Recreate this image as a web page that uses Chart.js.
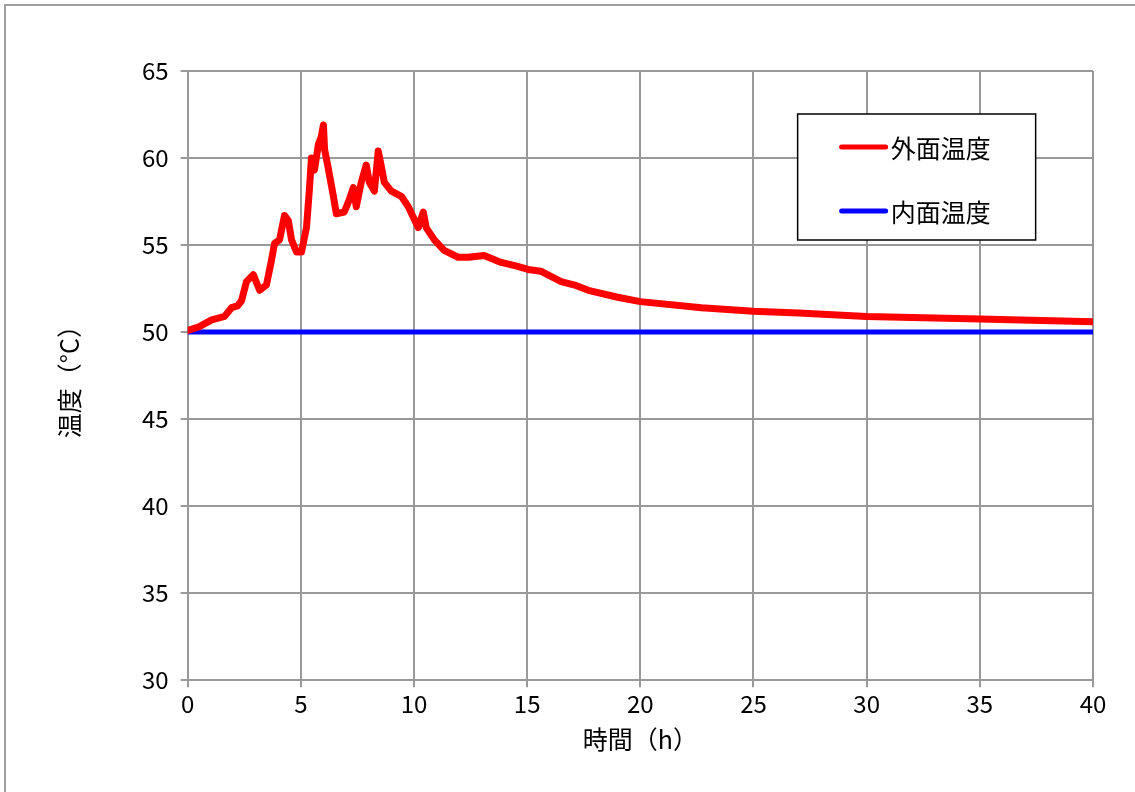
<!DOCTYPE html>
<html>
<head>
<meta charset="utf-8">
<script src="https://cdn.jsdelivr.net/npm/chart.js@4/dist/chart.umd.min.js"></script>
<style>
  html, body { margin: 0; padding: 0; background: #fff; }
  #wrap { width: 1135px; height: 792px; position: relative; }
</style>
</head>
<body>
<div id="wrap"><canvas id="tempChart" width="1135" height="792"></canvas></div>
<script>
// time (h) and temperature (°C)
const hours = [0, 0.5, 1.06, 1.35, 1.63, 1.94, 2.2, 2.38, 2.6, 2.9, 3.18, 3.48, 3.7, 3.84, 4.06, 4.28, 4.45, 4.59,
  4.81, 5.03, 5.25, 5.38, 5.47, 5.6, 5.78, 5.9, 6.0, 6.05, 6.2, 6.44, 6.57, 6.92, 7.14, 7.32, 7.45, 7.67, 7.89, 8.03,
  8.25, 8.42, 8.56, 8.69, 9.0, 9.44, 9.75, 10.19, 10.41, 10.54, 10.9, 11.33, 11.95, 12.4, 13.1, 13.85, 14.5,
  15.04, 15.6, 16.5, 17.1, 17.7, 19.0, 20.0, 22.7, 25.0, 27.0, 30.0, 35.0, 40.0];
const outerTemp = [50.1, 50.3, 50.7, 50.8, 50.9, 51.4, 51.5, 51.8, 52.9, 53.3, 52.4, 52.7, 54.1, 55.1, 55.3, 56.7,
  56.4, 55.3, 54.6, 54.6, 56.0, 58.2, 60.0, 59.3, 60.8, 61.2, 61.9, 60.5, 59.5, 57.8, 56.8, 56.9, 57.6, 58.3, 57.2,
  58.6, 59.6, 58.6, 58.1, 60.4, 59.5, 58.6, 58.1, 57.8, 57.2, 56.0, 56.9, 56.0, 55.3, 54.7, 54.3, 54.3, 54.4, 54.0,
  53.8, 53.6, 53.5, 52.9, 52.7, 52.4, 52.0, 51.75, 51.4, 51.2, 51.1, 50.9, 50.75, 50.6];
const innerHours = [0, 40];
const innerTemp = [50, 50];

const labels = { outer: "外面温度", inner: "内面温度", x: "時間（h）", y: "温度（°C）" };
const fontFamily = '"Noto Sans CJK JP", sans-serif';
const gridColor = "#999999";

const frame = {
  id: "frame",
  beforeDraw(chart) {
    const ctx = chart.ctx;
    ctx.save();
    ctx.strokeStyle = "#a0a0a0";
    ctx.lineWidth = 2;
    ctx.strokeRect(5, 5, 1300, 1000);
    ctx.restore();
  },
};

// legend box drawn inside the plot
const boxLegend = {
  id: "boxLegend",
  afterDraw(chart) {
    const ctx = chart.ctx;
    const a = chart.chartArea;
    const x = a.left + 610, y = a.top + 43;
    ctx.save();
    ctx.fillStyle = "#fff";
    ctx.fillRect(x, y, 238, 126);
    ctx.strokeStyle = "#000";
    ctx.lineWidth = 1.5;
    ctx.strokeRect(x, y, 238, 126);
    chart.data.datasets.forEach((ds, i) => {
      const ly = y + 33 + i * 64;
      ctx.strokeStyle = ds.borderColor;
      ctx.lineWidth = 5;
      ctx.lineCap = "round";
      ctx.beginPath();
      ctx.moveTo(x + 44, ly);
      ctx.lineTo(x + 88, ly);
      ctx.stroke();
      ctx.fillStyle = "#000";
      ctx.font = "25px " + fontFamily;
      ctx.textBaseline = "middle";
      ctx.fillText(ds.label, x + 93, ly + 1);
    });
    ctx.restore();
  },
};

new Chart(document.getElementById("tempChart"), {
  type: "line",
  data: {
    datasets: [
      {
        label: labels.outer,
        data: hours.map((h, i) => ({ x: h, y: outerTemp[i] })),
        borderColor: "#ff0000",
        borderWidth: 7,
        borderJoinStyle: "round",
        borderCapStyle: "round",
        pointRadius: 0,
        tension: 0,
      },
      {
        label: labels.inner,
        data: innerHours.map((h, i) => ({ x: h, y: innerTemp[i] })),
        borderColor: "#0000ff",
        borderWidth: 5,
        pointRadius: 0,
        tension: 0,
      },
    ],
  },
  options: {
    responsive: false,
    animation: false,
    layout: { padding: { top: 71, right: 42, left: 50, bottom: 34 } },
    plugins: { legend: { display: false }, tooltip: { enabled: false } },
    scales: {
      x: {
        type: "linear",
        min: 0,
        max: 40,
        ticks: { stepSize: 5, color: "#000", font: { family: fontFamily, size: 24 }, padding: 2 },
        grid: { color: gridColor, lineWidth: 2, tickLength: 7 },
        border: { color: gridColor, width: 2 },
        title: { display: true, text: labels.x, color: "#000", font: { family: fontFamily, size: 25 }, padding: { top: 4 } },
      },
      y: {
        min: 30,
        max: 65,
        ticks: { stepSize: 5, color: "#000", font: { family: fontFamily, size: 24 }, padding: 12 },
        grid: { color: gridColor, lineWidth: 2, tickLength: 7 },
        border: { color: gridColor, width: 2 },
        title: { display: true, text: labels.y, color: "#000", font: { family: fontFamily, size: 25 }, padding: { bottom: 46 } },
      },
    },
  },
  plugins: [frame, boxLegend],
});
</script>
</body>
</html>
